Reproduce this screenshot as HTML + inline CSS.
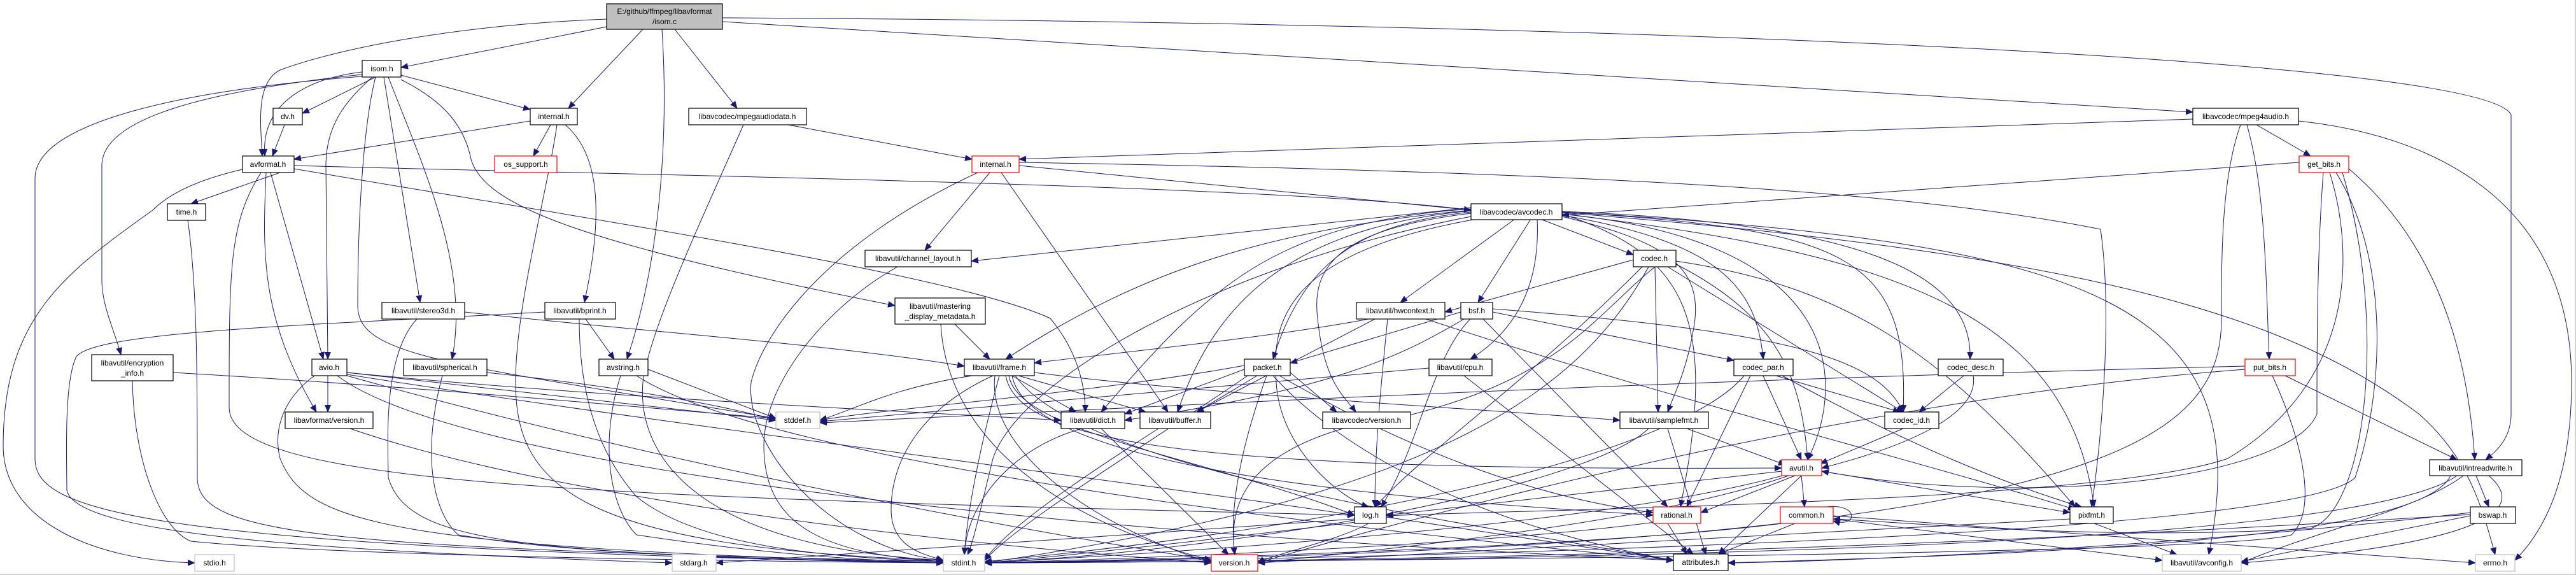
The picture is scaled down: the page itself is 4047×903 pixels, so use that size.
<!DOCTYPE html>
<html><head><meta charset="utf-8"><style>
html,body{margin:0;padding:0;background:#fff;}
svg{display:block;}
text{font-family:"Liberation Sans",sans-serif;font-size:12px;fill:#000;}
</style></head><body>
<svg width="4047" height="903" viewBox="0 0 4047 903" xmlns="http://www.w3.org/2000/svg">
<defs><marker id="a" markerUnits="userSpaceOnUse" markerWidth="12" markerHeight="10" refX="11" refY="5" orient="auto"><path d="M0,0 L12,5 L0,10 z" fill="#191970"/></marker></defs>
<rect x="0" y="0" width="4047" height="903" fill="#fff"/>
<line x1="0" y1="902" x2="4047" y2="902" stroke="#aaa"/>
<line x1="4046" y1="0" x2="4046" y2="903" stroke="#aaa"/>
<g fill="none" stroke="#191970" stroke-width="1" marker-end="url(#a)">
<path d="M953,30 C700,40 520,80 440,110 C400,130 410,200 412,245"/>
<path d="M953,42 L630,106"/>
<path d="M1010,46 L893,170"/>
<path d="M1040,46 C1050,200 1040,400 985,564"/>
<path d="M1060,46 L1158,170"/>
<path d="M1135,34 L3445,176"/>
<path d="M1135,28 C2500,35 3900,90 3945,180 L3945,650 C3945,690 3920,710 3905,722"/>
<path d="M590,121 L475,178"/>
<path d="M630,118 L833,172"/>
<path d="M569,113 C470,125 410,170 416,245"/>
<path d="M585,121 C540,160 512,200 512,260 L515,564"/>
<path d="M603,121 L660,475"/>
<path d="M610,121 C660,250 740,420 710,564"/>
<path d="M569,117 C350,140 160,180 160,260 L160,440 C160,480 180,520 190,557"/>
<path d="M569,120 C300,140 55,190 55,280 L55,720 C55,800 200,860 1482,884"/>
<path d="M590,121 C570,200 562,350 562,480 C562,560 700,570 1219,657"/>
<path d="M630,125 C700,160 730,200 740,250 C760,320 900,380 1406,480"/>
<path d="M833,190 L462,250"/>
<path d="M865,196 L838,245"/>
<path d="M888,196 C940,240 950,330 918,475"/>
<path d="M875,196 C860,300 810,480 810,600 C810,760 900,860 1482,880"/>
<path d="M440,271 L300,320"/>
<path d="M462,260 C1000,275 2000,290 2311,330"/>
<path d="M462,265 C900,340 1500,430 1650,500 C1700,560 1705,620 1705,647"/>
<path d="M425,271 L508,564"/>
<path d="M418,271 C412,400 410,500 497,647"/>
<path d="M381,266 C320,280 270,300 240,330 C100,430 5,500 5,700 C5,820 150,880 306,884"/>
<path d="M410,271 C360,350 360,420 360,640 C360,760 900,780 2128,809"/>
<path d="M295,346 C310,450 310,600 310,750 C310,840 500,860 1482,882"/>
<path d="M447,196 L428,245"/>
<path d="M655,501 C600,560 610,700 610,750 C640,850 800,870 1482,884"/>
<path d="M730,490 C1000,520 1300,540 1515,575"/>
<path d="M856,490 C500,510 150,520 120,560 C100,600 105,720 105,770 C120,840 500,865 1056,884"/>
<path d="M920,501 L965,564"/>
<path d="M910,501 C910,600 930,700 1000,780 C1100,860 1300,875 1482,882"/>
<path d="M208,598 C210,720 250,830 300,850 C500,870 1000,880 1482,884"/>
<path d="M272,585 C700,610 1000,640 1219,657"/>
<path d="M515,590 L515,647"/>
<path d="M494,590 C440,630 430,680 440,720 C480,820 600,860 1482,884"/>
<path d="M545,585 L1219,660"/>
<path d="M545,585 C900,620 1300,640 1667,660"/>
<path d="M545,588 C1000,660 1800,760 2128,809"/>
<path d="M545,590 C900,690 1400,800 1903,880"/>
<path d="M530,590 C700,720 1500,830 2629,880"/>
<path d="M695,590 C665,700 675,800 720,840 C900,870 1200,880 1482,884"/>
<path d="M765,585 C1000,610 1150,640 1219,660"/>
<path d="M975,590 C940,700 960,800 1000,840 C1200,870 1350,880 1482,884"/>
<path d="M1018,580 L1219,657"/>
<path d="M1000,590 C1200,720 2000,820 2629,880"/>
<path d="M550,673 C800,760 1300,840 1903,884"/>
<path d="M1168,196 C1100,350 1020,520 1010,600 C1000,720 1100,860 1482,880"/>
<path d="M1238,196 L1527,250"/>
<path d="M1536,271 C1300,380 1200,520 1180,600 C1170,700 1300,860 1482,880"/>
<path d="M1555,271 L1453,393"/>
<path d="M1601,260 L2311,330"/>
<path d="M1573,271 L1835,647"/>
<path d="M1601,255 C2500,270 3000,300 3300,360 C3320,500 3300,700 3286,796"/>
<path d="M1410,419 C1300,480 1200,600 1200,700 C1200,830 1300,870 1482,882"/>
<path d="M1478,509 C1485,650 1600,800 1903,880"/>
<path d="M1500,509 L1555,564"/>
<path d="M1527,590 C1400,610 1350,640 1288,660"/>
<path d="M1590,590 L1690,647"/>
<path d="M1600,590 L1800,647"/>
<path d="M1563,590 C1550,700 1700,820 1903,884"/>
<path d="M1570,590 C1540,700 1520,800 1515,871"/>
<path d="M1580,590 C1600,700 1900,740 2799,735"/>
<path d="M1590,590 C1620,750 2300,790 2597,809"/>
<path d="M1625,585 C1900,620 2300,640 2545,660"/>
<path d="M1560,590 C1450,640 1400,720 1400,800 C1400,860 1450,870 1482,880"/>
<path d="M1595,590 C1700,740 2300,820 2629,880"/>
<path d="M1585,590 C1600,680 1900,720 2128,809"/>
<path d="M1955,580 L1767,650"/>
<path d="M1975,590 L1880,647"/>
<path d="M1955,574 C1700,620 1400,640 1288,660"/>
<path d="M1990,590 C1950,700 1930,800 1940,871"/>
<path d="M2000,590 C2100,700 2300,820 2629,880"/>
<path d="M2027,585 L2100,647"/>
<path d="M1960,590 C1800,700 1600,820 1547,880"/>
<path d="M2010,590 C2200,700 2400,780 2597,805"/>
<path d="M1700,673 C1600,700 1520,780 1515,871"/>
<path d="M1730,673 L1930,871"/>
<path d="M1820,673 C1700,750 1580,830 1547,880"/>
<path d="M2380,344 L2200,475"/>
<path d="M2405,344 L2322,475"/>
<path d="M2415,344 C2420,450 2380,520 2310,564"/>
<path d="M2420,344 L2566,400"/>
<path d="M2311,335 C2100,360 2060,420 2070,500 C2080,600 2110,620 2130,647"/>
<path d="M2454,340 C2620,380 2680,420 2660,520 C2650,580 2630,620 2620,647"/>
<path d="M2454,338 C2700,380 2760,450 2770,564"/>
<path d="M2454,333 C2900,360 3000,400 2990,647"/>
<path d="M2454,332 C2900,350 3100,420 3095,564"/>
<path d="M2311,330 C2000,360 1800,420 1580,564"/>
<path d="M2311,333 C2150,350 2050,400 2000,564"/>
<path d="M2311,328 C2000,350 1900,450 1730,647"/>
<path d="M2311,331 C2000,360 1900,500 1850,647"/>
<path d="M2311,326 L1526,410"/>
<path d="M2320,344 C2000,400 2000,520 2005,600 C2010,700 2100,780 2150,796"/>
<path d="M2454,336 C2900,380 2900,600 2840,722"/>
<path d="M2454,336 C2650,400 2700,500 2640,796"/>
<path d="M2454,336 C3000,400 3250,500 3290,796"/>
<path d="M2454,334 C3300,400 3600,500 3800,650 C3880,720 3900,800 3920,871"/>
<path d="M2454,333 C3300,380 3550,480 3470,871"/>
<path d="M2311,340 C1900,420 1600,600 1560,720 C1540,800 1530,850 1520,871"/>
<path d="M2566,408 L2270,490"/>
<path d="M2600,419 C2500,500 2450,600 2180,660"/>
<path d="M2600,419 L2605,647"/>
<path d="M2620,419 L2990,647"/>
<path d="M2580,419 C2400,600 2250,700 2160,796"/>
<path d="M2633,410 C2900,450 3050,550 3260,796"/>
<path d="M2633,415 C2800,500 2830,600 2840,722"/>
<path d="M2590,419 C2480,620 2250,780 1547,884"/>
<path d="M2150,501 C2000,530 1700,560 1625,570"/>
<path d="M2180,501 C2170,600 2160,700 2160,796"/>
<path d="M2160,501 L1880,647"/>
<path d="M2240,501 C2600,620 3000,720 3260,800"/>
<path d="M2295,490 L2027,570"/>
<path d="M2300,501 C2200,560 2100,610 1767,660"/>
<path d="M2310,501 C2250,560 2230,700 2170,796"/>
<path d="M2345,490 L2724,566"/>
<path d="M2345,485 C2800,520 2950,560 2990,647"/>
<path d="M2330,501 L2620,796"/>
<path d="M2300,590 L2660,870"/>
<path d="M2245,578 L1288,662"/>
<path d="M2750,590 L2650,796"/>
<path d="M2770,590 L2830,722"/>
<path d="M2790,590 L2985,647"/>
<path d="M2800,590 C3000,700 3150,760 3270,796"/>
<path d="M2740,590 C2650,700 2200,820 1547,882"/>
<path d="M2110,673 C1950,720 1930,800 1940,871"/>
<path d="M2620,673 L2680,871"/>
<path d="M2650,673 L2805,730"/>
<path d="M2590,673 C2500,760 2000,860 1547,884"/>
<path d="M2990,673 L2860,728"/>
<path d="M3085,590 L3015,647"/>
<path d="M3100,590 C3110,650 3000,700 2862,735"/>
<path d="M2830,747 L2835,796"/>
<path d="M2820,747 L2672,805"/>
<path d="M2800,740 L2178,809"/>
<path d="M2862,740 L3252,805"/>
<path d="M2810,747 C2600,820 2200,860 1976,884"/>
<path d="M2830,747 L2700,870"/>
<path d="M2800,747 C2500,830 1800,870 1547,884"/>
<path d="M2128,815 L1125,884"/>
<path d="M2178,812 L2629,880"/>
<path d="M2150,822 C2100,850 2000,870 1976,884"/>
<path d="M2130,820 C1800,860 1600,880 1547,884"/>
<path d="M2620,822 L2650,870"/>
<path d="M2600,820 C2300,860 1700,880 1547,884"/>
<path d="M2820,822 L2700,870"/>
<path d="M2870,796 C2920,790 2920,830 2880,818"/>
<path d="M2880,815 L3397,880"/>
<path d="M2880,810 L3889,884"/>
<path d="M2800,822 C2500,860 1800,880 1547,884"/>
<path d="M3290,822 L3420,871"/>
<path d="M3252,815 C2800,840 2200,870 1976,884"/>
<path d="M3520,196 C3490,280 3490,400 3490,500 C3490,700 3300,860 1547,884"/>
<path d="M3530,196 C3560,300 3560,450 3565,564"/>
<path d="M3545,196 L3630,245"/>
<path d="M3611,190 C3800,210 4040,300 4040,600 C4040,780 3980,850 3951,880"/>
<path d="M3445,187 L1601,250"/>
<path d="M3612,255 L2454,338"/>
<path d="M3650,271 C3640,400 3640,550 3640,650 C3600,750 3200,800 2862,740"/>
<path d="M3660,271 C3700,400 3700,600 3500,720 C3300,790 2400,800 2178,810"/>
<path d="M3670,271 C3750,400 3750,600 3700,750 C3600,850 2000,880 1547,884"/>
<path d="M3690,265 C3850,400 3880,600 3888,722"/>
<path d="M3680,271 C3750,500 3720,800 3630,830 C3300,850 3000,820 2880,815"/>
<path d="M3527,575 C2500,600 1800,640 1288,664"/>
<path d="M3570,590 C3620,700 3640,800 3600,840 C3500,870 2200,880 1547,884"/>
<path d="M3590,590 L3860,722"/>
<path d="M3527,580 C3000,620 2400,760 1976,884"/>
<path d="M3890,747 L3910,796"/>
<path d="M3870,747 C3800,800 3650,830 3521,884"/>
<path d="M3850,747 C3800,850 3200,870 2715,884"/>
<path d="M3910,747 C3960,790 3950,850 3521,884"/>
<path d="M3860,747 C3700,860 2500,880 1547,884"/>
<path d="M3881,810 L3521,882"/>
<path d="M3881,805 C3500,850 3000,880 2715,884"/>
<path d="M3881,808 C3200,850 2500,880 1547,884"/>
</g>
<g stroke-width="1.2">
<rect x="953" y="6" width="182" height="40" fill="#bfbfbf" stroke="#000"/>
<g fill="#fff" stroke="#000">
<rect x="569" y="95" width="61" height="26"/>
<rect x="429" y="170" width="46" height="26"/>
<rect x="833" y="170" width="74" height="26"/>
<rect x="381" y="245" width="81" height="26"/>
<rect x="263" y="320" width="60" height="26"/>
<rect x="600" y="475" width="130" height="26"/>
<rect x="856" y="475" width="111" height="26"/>
<rect x="144" y="557" width="128" height="41"/>
<rect x="490" y="564" width="55" height="26"/>
<rect x="634" y="564" width="131" height="26"/>
<rect x="941" y="564" width="77" height="26"/>
<rect x="448" y="647" width="138" height="26"/>
<rect x="1082" y="170" width="185" height="26"/>
<rect x="1359" y="393" width="167" height="26"/>
<rect x="1406" y="468" width="142" height="41"/>
<rect x="1515" y="564" width="110" height="26"/>
<rect x="1667" y="647" width="100" height="26"/>
<rect x="1791" y="647" width="111" height="26"/>
<rect x="1955" y="564" width="72" height="26"/>
<rect x="2311" y="320" width="143" height="25"/>
<rect x="2566" y="393" width="67" height="26"/>
<rect x="2131" y="475" width="139" height="26"/>
<rect x="2295" y="475" width="50" height="26"/>
<rect x="2245" y="564" width="99" height="26"/>
<rect x="2724" y="564" width="93" height="26"/>
<rect x="2078" y="647" width="138" height="26"/>
<rect x="2545" y="647" width="139" height="26"/>
<rect x="2961" y="647" width="85" height="26"/>
<rect x="2128" y="796" width="50" height="26"/>
<rect x="2629" y="870" width="86" height="26"/>
<rect x="3445" y="170" width="166" height="26"/>
<rect x="3045" y="564" width="102" height="26"/>
<rect x="3817" y="722" width="145" height="25"/>
<rect x="3252" y="796" width="68" height="26"/>
<rect x="3881" y="796" width="71" height="26"/>
</g>
<g fill="#fff" stroke="#ff0000">
<rect x="777" y="245" width="98" height="26"/>
<rect x="1527" y="245" width="74" height="26"/>
<rect x="1903" y="871" width="73" height="26"/>
<rect x="2799" y="722" width="63" height="25"/>
<rect x="2597" y="796" width="75" height="26"/>
<rect x="2797" y="796" width="83" height="26"/>
<rect x="3612" y="245" width="78" height="26"/>
<rect x="3527" y="564" width="79" height="26"/>
</g>
<g fill="#fff" stroke="#bfbfbf">
<rect x="306" y="871" width="62" height="26"/>
<rect x="1219" y="647" width="69" height="26"/>
<rect x="1056" y="871" width="69" height="26"/>
<rect x="1482" y="871" width="65" height="26"/>
<rect x="3397" y="871" width="124" height="26"/>
<rect x="3889" y="871" width="62" height="26"/>
</g>
</g>
<g text-anchor="middle">
<text x="1044" y="22">E:/github/ffmpeg/libavformat</text>
<text x="1044" y="38">/isom.c</text>
<text x="600" y="112">isom.h</text>
<text x="452" y="187">dv.h</text>
<text x="870" y="187">internal.h</text>
<text x="826" y="262">os_support.h</text>
<text x="421" y="262">avformat.h</text>
<text x="293" y="337">time.h</text>
<text x="665" y="492">libavutil/stereo3d.h</text>
<text x="911" y="492">libavutil/bprint.h</text>
<text x="208" y="574">libavutil/encryption</text>
<text x="208" y="590">_info.h</text>
<text x="517" y="581">avio.h</text>
<text x="699" y="581">libavutil/spherical.h</text>
<text x="979" y="581">avstring.h</text>
<text x="517" y="664">libavformat/version.h</text>
<text x="337" y="888">stdio.h</text>
<text x="1174" y="187">libavcodec/mpegaudiodata.h</text>
<text x="1564" y="262">internal.h</text>
<text x="1442" y="410">libavutil/channel_layout.h</text>
<text x="1477" y="485">libavutil/mastering</text>
<text x="1477" y="501">_display_metadata.h</text>
<text x="1570" y="581">libavutil/frame.h</text>
<text x="1253" y="664">stddef.h</text>
<text x="1717" y="664">libavutil/dict.h</text>
<text x="1846" y="664">libavutil/buffer.h</text>
<text x="1090" y="888">stdarg.h</text>
<text x="1514" y="888">stdint.h</text>
<text x="1939" y="888">version.h</text>
<text x="1991" y="581">packet.h</text>
<text x="2382" y="337">libavcodec/avcodec.h</text>
<text x="2599" y="410">codec.h</text>
<text x="2200" y="492">libavutil/hwcontext.h</text>
<text x="2320" y="492">bsf.h</text>
<text x="2294" y="581">libavutil/cpu.h</text>
<text x="2770" y="581">codec_par.h</text>
<text x="2147" y="664">libavcodec/version.h</text>
<text x="2614" y="664">libavutil/samplefmt.h</text>
<text x="3003" y="664">codec_id.h</text>
<text x="2830" y="739">avutil.h</text>
<text x="2153" y="813">log.h</text>
<text x="2634" y="813">rational.h</text>
<text x="2838" y="813">common.h</text>
<text x="2672" y="887">attributes.h</text>
<text x="3528" y="187">libavcodec/mpeg4audio.h</text>
<text x="3651" y="262">get_bits.h</text>
<text x="3096" y="581">codec_desc.h</text>
<text x="3566" y="581">put_bits.h</text>
<text x="3889" y="739">libavutil/intreadwrite.h</text>
<text x="3286" y="813">pixfmt.h</text>
<text x="3916" y="813">bswap.h</text>
<text x="3459" y="888">libavutil/avconfig.h</text>
<text x="3920" y="888">errno.h</text>
</g>
</svg>
</body></html>
